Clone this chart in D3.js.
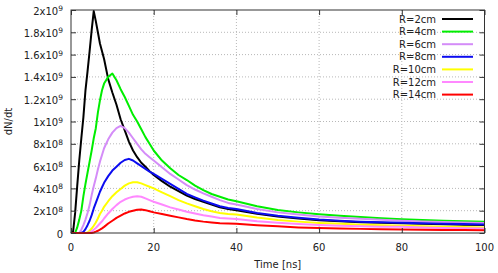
<!DOCTYPE html>
<html>
<head>
<meta charset="utf-8">
<script src="https://cdn.jsdelivr.net/npm/d3@7"></script>
<style>
  body { margin: 0; background: #fff; }
  text { font-family: "DejaVu Sans", sans-serif; fill: #222; }
</style>
</head>
<body>
<svg id="chart"></svg>
<script>
var width = 498;
var height = 273;

// time axis, ns
var times = [0, 0.5, 1, 1.5, 2, 2.5, 3, 3.5, 4, 4.5, 5, 5.5, 6, 6.5, 7, 7.5, 8,
  9, 10, 11, 12, 13, 14, 15, 16, 17, 18, 19, 20,
  22, 24, 26, 28, 30, 32, 34, 36, 38, 40,
  45, 50, 55, 60, 65, 70, 75, 80, 85, 90, 95, 100];

// dN/dt in units of 1e8
var r2 = [0, 0.1, 1.8, 4.2, 6.5, 8.5, 10.4, 12.8, 14.5, 16.3, 18.2, 19.9, 19.0, 18.0, 17.0, 16.3, 15.6,
  13.8, 12.6, 11.5, 10.2, 9.2, 8.2, 7.4, 6.8, 6.3, 5.95, 5.55, 5.2,
  4.65, 4.15, 3.75, 3.35, 3.05, 2.8, 2.55, 2.3, 2.15, 2.05,
  1.72, 1.48, 1.3, 1.14, 1.05, 0.97, 0.91, 0.87, 0.82, 0.78, 0.75, 0.72];
var r4 = [0, 0, 0, 0.5, 1.2, 2.0, 3.3, 4.4, 5.4, 6.4, 7.4, 8.5, 9.4, 10.8, 11.9, 12.8, 13.4,
  14.0, 14.3, 13.7, 12.9, 12.2, 11.4, 10.6, 10.0, 9.3, 8.6, 8.0, 7.4,
  6.5, 5.8, 5.2, 4.75, 4.25, 3.85, 3.5, 3.25, 3.0, 2.85,
  2.4, 2.06, 1.85, 1.68, 1.55, 1.44, 1.33, 1.23, 1.16, 1.1, 1.05, 1.0];
var r6 = [0, 0, 0, 0, 0, 0.3, 0.7, 1.2, 1.8, 2.5, 3.4, 4.2, 4.9, 5.7, 6.4, 7.0, 7.6,
  8.4, 9.0, 9.4, 9.6, 9.4, 9.0, 8.5, 8.0, 7.5, 7.1, 6.8, 6.5,
  5.9, 5.3, 4.8, 4.3, 3.9, 3.55, 3.25, 2.95, 2.7, 2.55,
  2.15, 1.85, 1.65, 1.48, 1.37, 1.27, 1.18, 1.1, 1.03, 0.98, 0.94, 0.9];
var r8 = [0, 0, 0, 0, 0, 0, 0.1, 0.35, 0.7, 1.1, 1.6, 2.2, 2.7, 3.2, 3.7, 4.1, 4.5,
  5.1, 5.6, 5.95, 6.3, 6.55, 6.65, 6.5, 6.25, 6.0, 5.75, 5.5, 5.3,
  4.85, 4.4, 3.95, 3.5, 3.2, 2.9, 2.65, 2.4, 2.25, 2.15,
  1.8, 1.55, 1.36, 1.2, 1.1, 1.02, 0.96, 0.92, 0.87, 0.83, 0.8, 0.77];
var r10 = [0, 0, 0, 0, 0, 0, 0, 0, 0.05, 0.2, 0.4, 0.65, 0.95, 1.3, 1.7, 2.0, 2.35,
  2.85, 3.3, 3.65, 3.95, 4.25, 4.45, 4.55, 4.55, 4.45, 4.3, 4.15, 4.0,
  3.65, 3.3, 2.95, 2.66, 2.4, 2.15, 1.95, 1.8, 1.7, 1.65,
  1.38, 1.17, 1.02, 0.9, 0.82, 0.75, 0.7, 0.66, 0.6, 0.56, 0.53, 0.5];
var r12 = [0, 0, 0, 0, 0, 0, 0, 0, 0, 0.05, 0.15, 0.3, 0.45, 0.65, 0.85, 1.05, 1.3,
  1.75, 2.15, 2.5, 2.8, 3.0, 3.15, 3.25, 3.3, 3.25, 3.1, 2.95, 2.8,
  2.55, 2.3, 2.1, 1.91, 1.75, 1.6, 1.48, 1.35, 1.3, 1.25,
  1.05, 0.92, 0.8, 0.72, 0.65, 0.6, 0.57, 0.55, 0.5, 0.45, 0.42, 0.4];
var r14 = [0, 0, 0, 0, 0, 0, 0, 0, 0, 0, 0, 0.05, 0.12, 0.2, 0.3, 0.42, 0.55,
  0.85, 1.1, 1.35, 1.55, 1.75, 1.9, 2.0, 2.08, 2.1, 2.05, 1.95, 1.85,
  1.7, 1.55, 1.4, 1.25, 1.12, 1.02, 0.95, 0.88, 0.85, 0.82,
  0.7, 0.6, 0.5, 0.44, 0.4, 0.37, 0.34, 0.32, 0.3, 0.28, 0.26, 0.25];

var seriesNames = ["R=2cm", "R=4cm", "R=6cm", "R=8cm", "R=10cm", "R=12cm", "R=14cm"];
var seriesValues = [r2, r4, r6, r8, r10, r12, r14];
var colors = ["#000000", "#00ee00", "#d48cf8", "#0c0cf0", "#ffff00", "#ff88ff", "#ff0000"];

var xTicks = [0, 20, 40, 60, 80, 100];
var yTicks = [0, 2, 4, 6, 8, 10, 12, 14, 16, 18, 20];

var svg = d3.select("#chart")
  .attr("width", width)
  .attr("height", height);

var x = d3.scaleLinear().domain([0, 100]).range([71, 484.5]);
var y = d3.scaleLinear().domain([0, 20]).range([233, 10]);

var plotLeft = x.range()[0], plotRight = x.range()[1];
var plotTop = y.range()[1], plotBottom = y.range()[0];

// grid
svg.append("g").selectAll("line")
  .data(yTicks.slice(1, -1))
  .enter().append("line")
  .attr("x1", plotLeft).attr("x2", plotRight)
  .attr("y1", function(d) { return y(d); })
  .attr("y2", function(d) { return y(d); })
  .attr("stroke", "#b8b8b8")
  .attr("stroke-width", 1)
  .attr("stroke-dasharray", "1,2");

svg.append("g").selectAll("line")
  .data(xTicks.slice(1, -1))
  .enter().append("line")
  .attr("y1", plotTop).attr("y2", plotBottom)
  .attr("x1", function(d) { return x(d); })
  .attr("x2", function(d) { return x(d); })
  .attr("stroke", "#b8b8b8")
  .attr("stroke-width", 1)
  .attr("stroke-dasharray", "1,2");

// curves
var line = d3.line()
  .x(function(d) { return x(d[0]); })
  .y(function(d) { return y(d[1]); });

seriesValues.forEach(function(vals, i) {
  var pts = times.map(function(t, j) { return [t, vals[j]]; });
  svg.append("path")
    .datum(pts)
    .attr("d", line)
    .attr("fill", "none")
    .attr("stroke", colors[i])
    .attr("stroke-width", 2)
    .attr("stroke-linejoin", "round");
});

// frame
svg.append("rect")
  .attr("x", plotLeft).attr("y", plotTop)
  .attr("width", plotRight - plotLeft).attr("height", plotBottom - plotTop)
  .attr("fill", "none")
  .attr("stroke", "#333")
  .attr("stroke-width", 1);

// ticks (inward, mirrored)
var yAxisL = d3.axisLeft(y).tickValues(yTicks).tickSizeInner(-5).tickSizeOuter(0).tickFormat("");
var yAxisR = d3.axisRight(y).tickValues(yTicks).tickSizeInner(-5).tickSizeOuter(0).tickFormat("");
var xAxisB = d3.axisBottom(x).tickValues(xTicks).tickSizeInner(-5).tickSizeOuter(0).tickFormat("");
var xAxisT = d3.axisTop(x).tickValues(xTicks).tickSizeInner(-5).tickSizeOuter(0).tickFormat("");

[[yAxisL, "translate(" + plotLeft + ",0)"], [yAxisR, "translate(" + plotRight + ",0)"],
 [xAxisB, "translate(0," + plotBottom + ")"], [xAxisT, "translate(0," + plotTop + ")"]].forEach(function(a) {
  var g = svg.append("g").attr("transform", a[1]).call(a[0]);
  g.select(".domain").remove();
  g.selectAll("line").attr("stroke", "#333");
});

// y tick labels like 1.8x10^9
var yLab = svg.append("g").selectAll("text")
  .data(yTicks)
  .enter().append("text")
  .attr("x", 63)
  .attr("y", function(d) { return y(d) + 4.5; })
  .attr("text-anchor", "end")
  .attr("font-size", 10);

yLab.each(function(d) {
  var t = d3.select(this);
  if (d === 0) { t.text("0"); return; }
  var v = d * 1e8;
  var e = Math.floor(Math.log10(v) + 1e-9);
  var m = +(v / Math.pow(10, e)).toFixed(1);
  t.append("tspan").text(m + "x10");
  t.append("tspan").attr("dy", -3.5).attr("font-size", 7.5).text(e);
});

// x tick labels
svg.append("g").selectAll("text")
  .data(xTicks)
  .enter().append("text")
  .attr("x", function(d) { return x(d); })
  .attr("y", 250.5)
  .attr("text-anchor", "middle")
  .attr("font-size", 10)
  .text(function(d) { return d; });

svg.append("text")
  .attr("x", (plotLeft + plotRight) / 2)
  .attr("y", 268)
  .attr("text-anchor", "middle")
  .attr("font-size", 10)
  .text("Time [ns]");

svg.append("text")
  .attr("transform", "translate(12," + (plotTop + plotBottom) / 2 + ") rotate(-90)")
  .attr("text-anchor", "middle")
  .attr("font-size", 10)
  .text("dN/dt");

// legend
var legend = svg.append("g").selectAll("g")
  .data(seriesNames)
  .enter().append("g")
  .attr("transform", function(d, i) { return "translate(0," + (19 + i * 12.6) + ")"; });

legend.append("text")
  .attr("x", 436)
  .attr("y", 3.5)
  .attr("text-anchor", "end")
  .attr("font-size", 10)
  .text(function(d) { return d; });

legend.append("line")
  .attr("x1", 442).attr("x2", 473)
  .attr("y1", 0).attr("y2", 0)
  .attr("stroke", function(d, i) { return colors[i]; })
  .attr("stroke-width", 2);
</script>
</body>
</html>
